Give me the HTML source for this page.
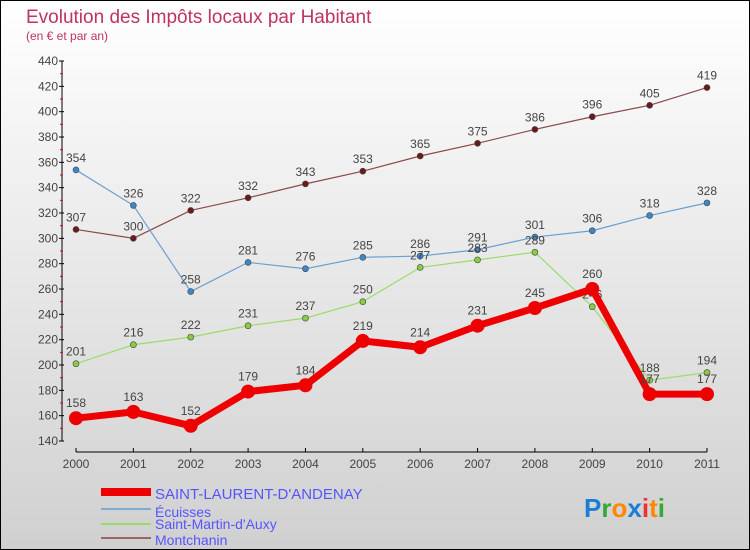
<!DOCTYPE html>
<html><head><meta charset="utf-8"><style>
body{margin:0}
#c{width:748px;height:548px;border:1px solid #000;background:linear-gradient(#fff,#d0d0d0);position:relative;font-family:"Liberation Sans",sans-serif;overflow:hidden}
svg text{font-family:"Liberation Sans",sans-serif}
</style></head><body>
<div id="c">
<svg id="s" width="748" height="548">
<text x="25" y="22" font-size="19" fill="#c0335e">Evolution des Impôts locaux par Habitant</text>
<text x="25" y="39" font-size="12" fill="#c0335e">(en € et par an)</text>
<g id="ax"></g><g id="ser"></g>
<g>
<line x1="100" y1="491" x2="150" y2="491" stroke="#e00" stroke-width="8"/>
<text x="154" y="498" font-size="15" fill="#55f">SAINT-LAURENT-D'ANDENAY</text>
<line x1="100" y1="508" x2="150" y2="508" stroke="#7aaed6" stroke-width="2"/>
<text x="154" y="516" font-size="14" fill="#55f">Écuisses</text>
<line x1="100" y1="523" x2="150" y2="523" stroke="#99dd66" stroke-width="2"/>
<text x="154" y="528" font-size="14" fill="#55f">Saint-Martin-d'Auxy</text>
<line x1="100" y1="537" x2="150" y2="537" stroke="#996666" stroke-width="2"/>
<text x="154" y="544" font-size="14" fill="#55f">Montchanin</text>
</g>
<text x="583" y="516" font-size="26" font-weight="bold"><tspan fill="#1a7fd4">P</tspan><tspan fill="#3a3">r</tspan><tspan fill="#f80">o</tspan><tspan fill="#1a7fd4">x</tspan><tspan fill="#e33">i</tspan><tspan fill="#f80">t</tspan><tspan fill="#3a3">i</tspan></text>
</svg></div>
<script>
const years=[2000,2001,2002,2003,2004,2005,2006,2007,2008,2009,2010,2011];
const yTicks=[140,160,180,200,220,240,260,280,300,320,340,360,380,400,420,440];
const saintLaurent=[158,163,152,179,184,219,214,231,245,260,177,177];
const ecuisses=[354,326,258,281,276,285,286,291,301,306,318,328];
const saintMartin=[201,216,222,231,237,250,277,283,289,246,188,194];
const montchanin=[307,300,322,332,343,353,365,375,386,396,405,419];
const NS="http://www.w3.org/2000/svg";
const X=i=>75+i*(631/11);
const Y=v=>440-(v-140)*(380/300);
function mk(p,t,a){const e=document.createElementNS(NS,t);for(const k in a)e.setAttribute(k,a[k]);p.appendChild(e);return e;}
const ax=document.getElementById('ax'),ser=document.getElementById('ser');
let l=mk(ax,'line',{x1:61,y1:Y(440),x2:61,y2:Y(140),stroke:'#000'});


l=mk(ax,'line',{x1:75,y1:451,x2:706,y2:451,stroke:'#000'});


yTicks.forEach(v=>{mk(ax,'line',{x1:58,y1:Y(v),x2:63,y2:Y(v),stroke:'#000'});
mk(ax,'line',{x1:59,y1:Y(v+10),x2:62,y2:Y(v+10),stroke:v<440?'#e00':'none'});
const t=mk(ax,'text',{x:57,y:Y(v)+4,'font-size':12,fill:'#444','text-anchor':'end'});t.textContent=v;

});
years.forEach((yr,i)=>{mk(ax,'line',{x1:X(i),y1:447,x2:X(i),y2:451,stroke:'#000'});
const t=mk(ax,'text',{x:X(i),y:467,'font-size':12,fill:'#444','text-anchor':'middle'});t.textContent=yr;

});
function series(data,color,dot,w,r,name,lc){
const g=mk(ser,'g',{});


const p=mk(g,'polyline',{points:data.map((v,i)=>X(i)+','+Y(v)).join(' '),fill:'none',stroke:color,'stroke-width':w,'stroke-linejoin':'round'});


data.forEach((v,i)=>{const c=mk(g,'circle',{cx:X(i),cy:Y(v),r:r,fill:dot,stroke:'#444','stroke-width':r>4?0:0.6});


const t=mk(g,'text',{x:X(i),y:Y(v)-(r>4?11:8),'font-size':12,fill:'#444','text-anchor':'middle'});t.textContent=v;

});}
series(montchanin,'#8a4a4a','#6b1a1a',1.2,3,'montchanin');
series(ecuisses,'#6aa0d0','#3a88cc',1.2,3,'ecuisses');
series(saintMartin,'#99dd66','#88cc44',1.2,3,'saint-martin');
series(saintLaurent,'#ee0000','#ee0000',7,7,'saint-laurent');
</script></body></html>
